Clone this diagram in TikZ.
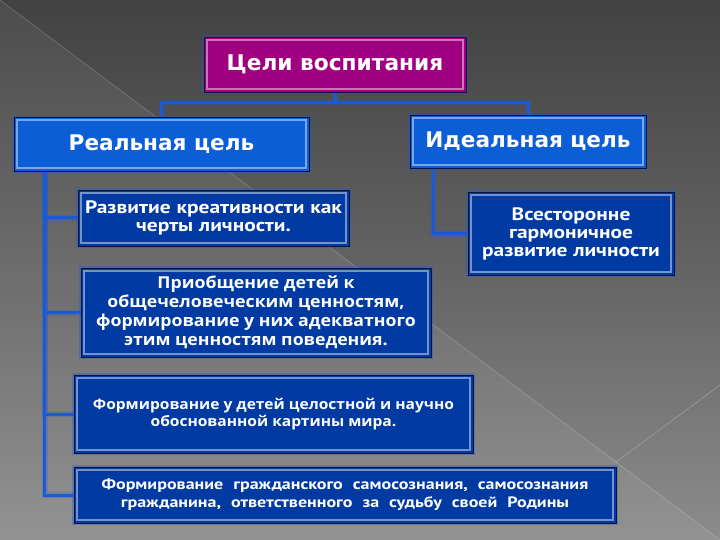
\documentclass[tikz,border=0pt]{standalone}
\usepackage{fontspec}
\setmainfont{DejaVu Sans}
\newfontfamily\tahoma[FakeStretch=1.19, WordSpace=1.1]{PT Sans}
\newfontfamily\tahomaD[FakeStretch=1.2, WordSpace=2.2]{PT Sans}
\newfontfamily\gothic[FakeStretch=1.08]{Open Sans}
\definecolor{bgtop}{RGB}{66,66,66}
\definecolor{bgmid}{RGB}{100,100,100}
\definecolor{bgbot}{RGB}{140,140,140}
\definecolor{magbox}{RGB}{160,0,128}
\definecolor{lightbox}{RGB}{12,94,214}
\definecolor{darkbox}{RGB}{2,58,164}
\definecolor{connblue}{RGB}{28,90,212}
\definecolor{edgedark}{RGB}{10,20,60}
\pgfdeclarelayer{bglayer}
\pgfdeclarelayer{connlayer}
\pgfsetlayers{bglayer,connlayer,main}
\tikzset{
  boxbase/.style={rectangle, inner sep=0pt, align=center, text=white,
    draw=edgedark, line width=0.8pt,
    preaction={draw=connblue, line width=4pt, opacity=0.35},
    path picture={\draw[white, opacity=0.45, line width=1.2pt]
      ([shift={(3pt,-3pt)}]path picture bounding box.north west) rectangle
      ([shift={(-3pt,3pt)}]path picture bounding box.south east);}},
  titlebox/.style={boxbase, fill=magbox},
  mainbox/.style={boxbase, fill=lightbox},
  subbox/.style={boxbase, fill=darkbox},
  conn/.style={draw=connblue, line width=3pt,
    preaction={draw=connblue, line width=6pt, opacity=0.25}},
}
\begin{document}
\begin{tikzpicture}[x=1pt,y=-1pt]
\useasboundingbox (0,0) rectangle (720,540);
\begin{pgfonlayer}{bglayer}
\shade[top color=bgtop, bottom color=bgbot, middle color=bgmid] (0,0) rectangle (720,540);
\fill[white, opacity=0.06] (0,0) -- (720,540) -- (0,540) -- cycle;
\draw[white, opacity=0.25, line width=0.5pt] (0,0) -- (720,540);
\draw[white, opacity=0.3, line width=0.5pt] (615,463) -- (720,385);
\end{pgfonlayer}

\coordinate (hub) at (335,103);
\coordinate (lsp) at (44.5,171);
\coordinate (rsp) at (433,168);

\node[titlebox, minimum width=262pt, minimum height=55pt,
  font=\fontsize{21.7}{26}\selectfont\bfseries] (title) at (335,64.5)
  {Цели воспитания};
\node[mainbox, minimum width=295pt, minimum height=54pt,
  font=\fontsize{21.6}{26}\selectfont\bfseries] (real) at (161.5,144)
  {Реальная цель};
\node[mainbox, minimum width=236pt, minimum height=53pt,
  font=\fontsize{21.6}{26}\selectfont\bfseries] (ideal) at (528,141.5)
  {Идеальная цель};

\node[subbox, minimum width=271pt, minimum height=56pt,
  font=\tahoma\fontsize{18}{17.5}\selectfont\bfseries] (a) at (213.5,218)
  {Развитие креативности как\\черты личности.};
\node[subbox, minimum width=350pt, minimum height=89pt,
  font=\gothic\fontsize{16.4}{19}\selectfont\bfseries] (b) at (256,312.5)
  {Приобщение детей к\\общечеловеческим ценностям,\\формирование у них адекватного\\этим ценностям поведения.};
\node[subbox, minimum width=399pt, minimum height=78pt,
  font=\gothic\fontsize{14.4}{17}\selectfont\bfseries] (c) at (273.5,414)
  {Формирование у детей целостной и научно\\обоснованной картины мира.};
\node[subbox, minimum width=542pt, minimum height=56pt,
  font=\tahomaD\fontsize{15}{18}\selectfont\bfseries] (d) at (345,495)
  {Формирование гражданского самосознания, самосознания\\гражданина, ответственного за судьбу своей Родины};
\node[subbox, minimum width=206pt, minimum height=83pt,
  font=\tahoma\fontsize{18}{18}\selectfont\bfseries] (e) at (571,233.5)
  {Всесторонне\\гармоничное\\развитие личности};

\begin{pgfonlayer}{connlayer}
\draw[conn] (title.south) -- (hub);
\draw[conn] (hub) -| (real.north);
\draw[conn] (hub) -| (ideal.north);
\draw[conn] (lsp) |- (a.west);
\draw[conn] (lsp) |- (b.west);
\draw[conn] (lsp) |- (c.west);
\draw[conn] (lsp) |- (d.west);
\draw[conn] (rsp) |- (e.west);
\end{pgfonlayer}
\end{tikzpicture}
\end{document}
